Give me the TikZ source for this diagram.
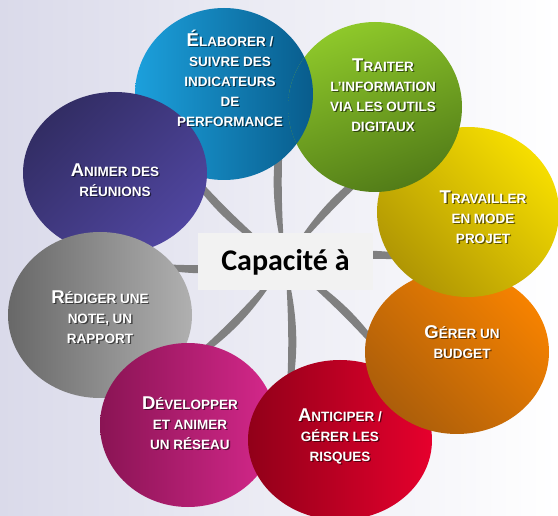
\documentclass[tikz,border=0pt]{standalone}
\usepackage{fontspec}
\setmainfont{Liberation Sans}
\newfontfamily\carl{Carlito}
\usetikzlibrary{calc}
\definecolor{bgL}{RGB}{218,218,234}
\definecolor{spokegray}{RGB}{128,128,128}
\definecolor{boxgray}{RGB}{242,242,242}
\definecolor{blueL}{RGB}{28,160,220}
\definecolor{blueD}{RGB}{8,92,140}
\definecolor{greenL}{RGB}{142,200,42}
\definecolor{greenD}{RGB}{82,124,24}
\definecolor{yelL}{RGB}{246,222,0}
\definecolor{yelD}{RGB}{176,150,4}
\definecolor{orL}{RGB}{246,130,0}
\definecolor{orD}{RGB}{172,94,10}
\definecolor{redL}{RGB}{230,0,45}
\definecolor{redD}{RGB}{145,0,25}
\definecolor{magL}{RGB}{214,40,140}
\definecolor{magD}{RGB}{138,20,84}
\definecolor{grayL}{RGB}{176,176,176}
\definecolor{grayD}{RGB}{104,104,104}
\definecolor{purL}{RGB}{80,70,160}
\definecolor{purD}{RGB}{50,45,100}
\newcommand\fl[1]{{\fontsize{18.5}{20}\selectfont #1}}
\tikzset{
  lbl/.style={text=white, font=\bfseries\fontsize{13.5}{20}\selectfont, align=center, inner sep=0pt},
  lblshadow/.style={lbl, text=black, opacity=0.55},
  spoke/.style={fill=spokegray},
  cblue/.style={left color=blueL, right color=blueD},
  cgreen/.style={top color=greenL, bottom color=greenD, shading angle=20},
  cyel/.style={top color=yelL, bottom color=yelD, shading angle=-45},
  cor/.style={top color=orL, bottom color=orD, shading angle=-45},
  cred/.style={left color=redD, right color=redL},
  cmag/.style={left color=magD, right color=magL},
  cgray/.style={left color=grayD, right color=grayL},
  cpur/.style={top color=purD, bottom color=purL, shading angle=45},
  centerbox/.style={fill=boxgray, minimum width=175pt, minimum height=57pt, inner sep=0pt,
    font=\carl\bfseries\fontsize{30}{36}\selectfont}
}
\newcommand\lbl[3]{%
  \node[lblshadow] (#1s) at ($(#2)+(1.3,1.3)$) {#3};
  \node[lbl] (#1) at (#2) {#3};}
\begin{document}
\begin{tikzpicture}[x=1pt,y=-1pt]
\useasboundingbox (0,0) rectangle (558,516);
\shade[left color=bgL, right color=white] (0,0) rectangle (558,516);
\coordinate (C) at (285,262);
\foreach \a [count=\i] in {0,45,...,315}{
  \coordinate (e\i) at ($(C)+(\a:160)$);
  \fill[spoke] (C) to[bend left=14] (e\i) to[bend right=4] (C);
}
% circles (cyclic overlap)
\shade[cblue] (224,94) ellipse [x radius=89pt, y radius=86pt];
\shade[cpur] (115,173) ellipse [x radius=92pt, y radius=81pt];
\shade[cgray] (100,315) ellipse [x radius=92pt, y radius=83pt];
\shade[cmag] (188,425) ellipse [x radius=88pt, y radius=82pt];
\shade[cred] (340,440) ellipse [x radius=92pt, y radius=80pt];
\shade[cor] (457,352) ellipse [x radius=92pt, y radius=82pt];
\shade[cyel] (468,212) ellipse [x radius=91pt, y radius=85pt];
\shade[cgreen] (375,107) ellipse [x radius=87pt, y radius=85pt];
\begin{scope}
  \clip (375,107) ellipse [x radius=87pt, y radius=85pt];
  \shade[cblue] (224,94) ellipse [x radius=89pt, y radius=86pt];
\end{scope}
\node[centerbox] (box) at (285.5,262) {Capacité à};
\lbl{t1}{230,78}{\fl{É}LABORER /\\SUIVRE DES\\INDICATEURS\\DE\\PERFORMANCE}
\lbl{t2}{383,95}{\fl{T}RAITER\\L’INFORMATION\\VIA LES OUTILS\\DIGITAUX}
\lbl{t3}{483,217}{\fl{T}RAVAILLER\\EN MODE\\PROJET}
\lbl{t4}{462,342}{\fl{G}ÉRER UN\\BUDGET}
\lbl{t5}{340,436}{\fl{A}NTICIPER /\\GÉRER LES\\RISQUES}
\lbl{t6}{190,423}{\fl{D}ÉVELOPPER\\ET ANIMER\\UN RÉSEAU}
\lbl{t7}{100,317}{\fl{R}ÉDIGER UNE\\NOTE, UN\\RAPPORT}
\lbl{t8}{115,180}{\fl{A}NIMER DES\\RÉUNIONS}
\end{tikzpicture}
\end{document}
